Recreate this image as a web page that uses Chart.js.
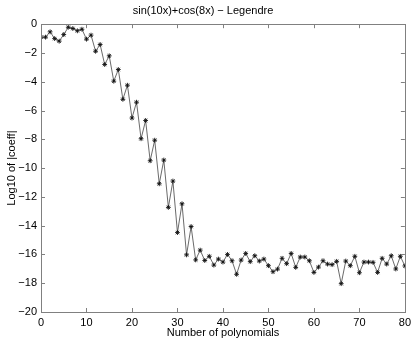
<!DOCTYPE html>
<html>
<head>
<meta charset="utf-8">
<script src="https://cdn.jsdelivr.net/npm/chart.js@4/dist/chart.umd.min.js"></script>
<style>
  html, body { margin: 0; padding: 0; background: #fff; }
  #wrap { width: 415px; height: 342px; }
</style>
</head>
<body>
<div id="wrap"><canvas id="coeffChart" width="415" height="342"></canvas></div>
<script>
// Legendre coefficients of sin(10x)+cos(8x), log10 scale
const polyCount = [];
for (let i = 0; i <= 80; i++) polyCount.push(i);

const logCoeff = [
  -0.90, -0.90, -0.53, -1.00, -1.18, -0.72, -0.21, -0.30, -0.46, -0.35,
  -1.04, -0.76, -1.88, -1.41, -2.80, -2.20, -3.96, -3.15, -5.22, -4.24,
  -6.52, -5.42, -7.96, -6.69, -9.49, -8.06, -11.09, -9.44, -12.73, -10.90,
  -14.48, -12.48, -16.03, -14.06, -16.38, -15.70, -16.42, -16.13, -16.74, -16.32,
  -16.53, -16.00, -16.44, -17.38, -16.39, -15.93, -16.50, -16.09, -16.46, -16.32,
  -16.78, -17.20, -17.02, -16.27, -16.64, -15.93, -16.90, -16.18, -16.18, -16.44,
  -17.25, -16.88, -16.44, -16.67, -16.71, -16.48, -18.03, -16.46, -16.78, -16.13,
  -17.27, -16.53, -16.53, -16.55, -17.25, -16.27, -16.67, -16.09, -17.01, -16.13,
  -16.80
];

const xTicks = [0, 10, 20, 30, 40, 50, 60, 70, 80];
const yTicks = [-20, -18, -16, -14, -12, -10, -8, -6, -4, -2, 0];

const fontFamily = "'Liberation Sans', Arial, Helvetica, sans-serif";
const axisGrey = '#808080';

// MATLAB style box with inward ticks on all four sides
const boxTicks = {
  id: 'boxTicks',
  afterDraw(chart) {
    const { ctx, chartArea: a, scales: { x, y } } = chart;
    const len = 4;
    ctx.save();
    ctx.strokeStyle = axisGrey;
    ctx.lineWidth = 1;
    ctx.beginPath();
    xTicks.forEach(v => {
      const px = Math.round(x.getPixelForValue(v)) + 0.5;
      ctx.moveTo(px, a.bottom); ctx.lineTo(px, a.bottom - len);
      ctx.moveTo(px, a.top); ctx.lineTo(px, a.top + len);
    });
    yTicks.forEach(v => {
      const py = Math.round(y.getPixelForValue(v)) + 0.5;
      ctx.moveTo(a.left, py); ctx.lineTo(a.left + len, py);
      ctx.moveTo(a.right, py); ctx.lineTo(a.right - len, py);
    });
    ctx.stroke();
    ctx.strokeRect(Math.round(a.left) + 0.5, Math.round(a.top) + 0.5,
      Math.round(a.width), Math.round(a.height));
    ctx.restore();
  }
};

new Chart(document.getElementById('coeffChart'), {
  type: 'line',
  data: {
    datasets: [{
      data: polyCount.map((n, i) => ({ x: n, y: logCoeff[i] })),
      borderColor: '#444',
      borderWidth: 0.8,
      pointStyle: 'star',
      pointRadius: 2.4,
      pointBorderColor: '#111',
      pointBorderWidth: 0.9,
      pointBackgroundColor: '#111',
      tension: 0,
      fill: false
    }]
  },
  options: {
    responsive: false,
    animation: false,
    layout: { padding: { top: 0, right: 9, bottom: 0, left: 0 } },
    plugins: {
      legend: { display: false },
      tooltip: { enabled: false },
      title: {
        display: true,
        text: 'sin(10x)+cos(8x) \u2212 Legendre',
        color: '#000',
        font: { family: fontFamily, size: 11, weight: 'normal' },
        padding: { top: 4, bottom: 7 }
      }
    },
    scales: {
      x: {
        type: 'linear',
        min: 0,
        max: 80,
        afterFit(scale) { scale.height = 30; },
        afterBuildTicks(scale) { scale.ticks = xTicks.map(v => ({ value: v })); },
        grid: { display: false, drawTicks: false },
        border: { display: false },
        ticks: {
          color: '#000',
          padding: 4,
          maxRotation: 0,
          font: { family: fontFamily, size: 11 }
        },
        title: {
          display: true,
          text: 'Number of polynomials',
          color: '#000',
          font: { family: fontFamily, size: 11 },
          padding: { top: 0, bottom: 2 }
        }
      },
      y: {
        min: -20,
        max: 0,
        afterFit(scale) { scale.width = 41; },
        afterBuildTicks(scale) { scale.ticks = yTicks.map(v => ({ value: v })); },
        grid: { display: false, drawTicks: false },
        border: { display: false },
        ticks: {
          color: '#000',
          padding: 4,
          font: { family: fontFamily, size: 11 },
          callback: v => String(v).replace('-', '\u2212')
        },
        title: {
          display: true,
          text: 'Log10 of |coeff|',
          color: '#000',
          font: { family: fontFamily, size: 11 },
          padding: { top: 5, bottom: 0 }
        }
      }
    }
  },
  plugins: [boxTicks]
});
</script>
</body>
</html>
